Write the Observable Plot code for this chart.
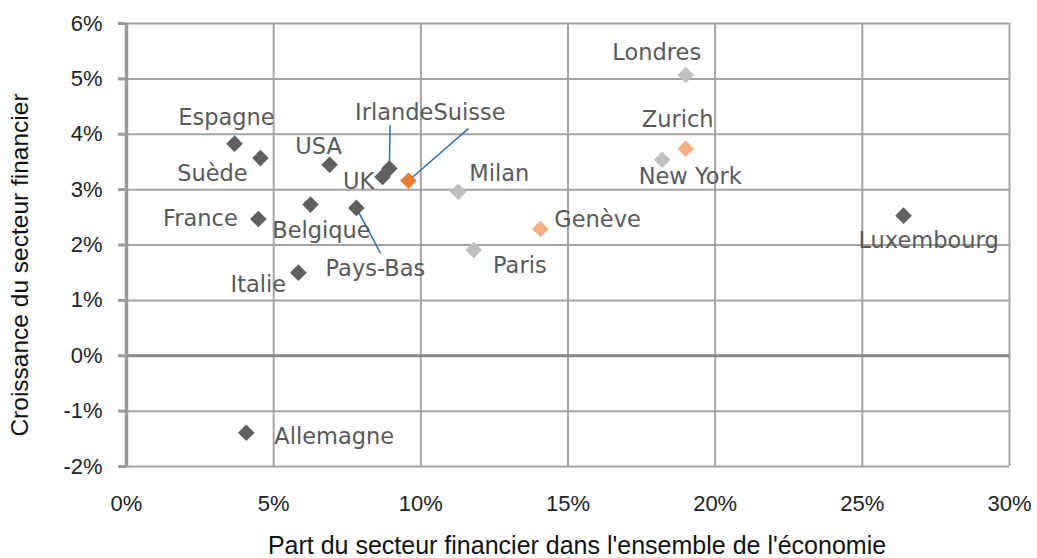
<!DOCTYPE html>
<html>
<head>
<meta charset="utf-8">
<script src="https://cdn.jsdelivr.net/npm/d3@7"></script>
<script src="https://cdn.jsdelivr.net/npm/@observablehq/plot@0.6"></script>
<style>
  body { margin: 0; background: #fff; }
  #chart svg { display: block; }
</style>
</head>
<body>
<div id="chart"></div>
<script>
// ---- data (values in %) ----
const names  = ["Espagne","Suède","USA","UK","Irlande","France","Belgique","Pays-Bas","Italie","Allemagne","Luxembourg","Suisse","Londres","New York","Milan","Paris","Zurich","Genève"];
const share  = [3.67, 4.55, 6.9, 8.7, 8.93, 4.48, 6.25, 7.81, 5.84, 4.07, 26.4, 9.58, 19.0, 18.2, 11.27, 11.8, 19.0, 14.06];
const growth = [3.83, 3.57, 3.45, 3.23, 3.38, 2.47, 2.73, 2.67, 1.50, -1.39, 2.53, 3.16, 5.07, 3.54, 2.96, 1.91, 3.74, 2.29];
const group  = ["pays","pays","pays","pays","pays","pays","pays","pays","pays","pays","pays","suisse","ville","ville","ville","ville","ville suisse","ville suisse"];
const groups = ["pays","suisse","ville","ville suisse"];
const groupColors = ["#606060","#e97c35","#bfbfbf","#f3b084"];
const xTicks = [0, 5, 10, 15, 20, 25, 30];
const yTicks = [-2, -1, 0, 1, 2, 3, 4, 5, 6];
const xLabel = "Part du secteur financier dans l'ensemble de l'économie";
const yLabel = "Croissance du secteur financier";

const data = names.map((name, i) => ({name, share: share[i], growth: growth[i], group: group[i]}));

// ---- label layout (pixel offsets from each point) ----
const labelLayout = {
  "Espagne":   {dx: -8,  dy: -26},
  "Suède":     {dx: -48, dy: 16},
  "USA":       {dx: -11, dy: -18},
  "UK":        {dx: -24, dy: 5},
  "Irlande":   {dx: 44,  dy: -56, anchor: "end"},
  "Suisse":    {dx: 25,  dy: -68, anchor: "start"},
  "France":    {dx: -58, dy: 0},
  "Belgique":  {dx: 11,  dy: 26},
  "Pays-Bas":  {dx: 19,  dy: 61},
  "Italie":    {dx: -40, dy: 12},
  "Allemagne": {dx: 28,  dy: 4, anchor: "start"},
  "Luxembourg":{dx: 25,  dy: 25},
  "Londres":   {dx: -29, dy: -22},
  "Zurich":    {dx: -8,  dy: -29},
  "New York":  {dx: 28,  dy: 17},
  "Milan":     {dx: 41,  dy: -18},
  "Genève":    {dx: 14,  dy: -9, anchor: "start"},
  "Paris":     {dx: 46,  dy: 16}
};
const leaders = {
  "Irlande":  {length: 43, rotate: 1},
  "Suisse":   {length: 79, rotate: 49},
  "Pays-Bas": {length: 51, rotate: 152}
};

const gridColor = "#a3a3a3";
const labelColor = "#595959";

const labelMarks = data.map(d => {
  const L = labelLayout[d.name];
  return Plot.text([d], {
    x: "share", y: "growth", text: "name",
    dx: L.dx, dy: L.dy, textAnchor: L.anchor || "middle",
    fill: labelColor, fontFamily: "DejaVu Sans", fontSize: 22.5
  });
});

const leaderMarks = data.filter(d => leaders[d.name]).map(d => Plot.vector([d], {
  x: "share", y: "growth", anchor: "start",
  length: leaders[d.name].length, rotate: leaders[d.name].rotate,
  r: 0, stroke: "#2f72b0", strokeWidth: 1.5
}));

const chart = Plot.plot({
  width: 1037,
  height: 558,
  marginLeft: 126,
  marginRight: 28,
  marginTop: 23,
  marginBottom: 92,
  style: {fontFamily: "Liberation Sans, Arial, sans-serif", fontSize: "22px", color: "#222", background: "#fff", overflow: "visible"},
  x: {domain: [0, 30]},
  y: {domain: [-2, 6]},
  color: {domain: groups, range: groupColors},
  marks: [
    Plot.gridX(xTicks, {stroke: gridColor, strokeWidth: 2, strokeOpacity: 1}),
    Plot.gridY(yTicks, {stroke: gridColor, strokeWidth: 2, strokeOpacity: 1}),
    Plot.ruleY([0], {stroke: "#8a8a8a", strokeWidth: 3}),
    Plot.ruleX([0], {stroke: "#9a9a9a", strokeWidth: 3.5}),
    Plot.axisY({ticks: yTicks, tickSize: 8, tickPadding: 16, tickFormat: d => d + "%", stroke: "#9a9a9a", strokeWidth: 3, fill: "#222", fontSize: 22, label: null}),
    Plot.axisX({ticks: xTicks, tickSize: 0, tickPadding: 29, tickFormat: d => d + "%", fill: "#222", fontSize: 22, label: null}),
    Plot.text([xLabel], {frameAnchor: "bottom", dy: 87, dx: 9, textAnchor: "middle", lineAnchor: "bottom", fontSize: 25, fill: "#111"}),
    Plot.text([yLabel], {frameAnchor: "left", rotate: -90, dx: -106, dy: 20, textAnchor: "middle", lineAnchor: "middle", fontSize: 24.5, fill: "#111"}),
    ...leaderMarks,
    Plot.dot(data, {x: "share", y: "growth", symbol: "diamond2", r: 7.5, fill: "group", stroke: "none"}),
    ...labelMarks
  ]
});
document.getElementById("chart").appendChild(chart);
</script>
</body>
</html>
